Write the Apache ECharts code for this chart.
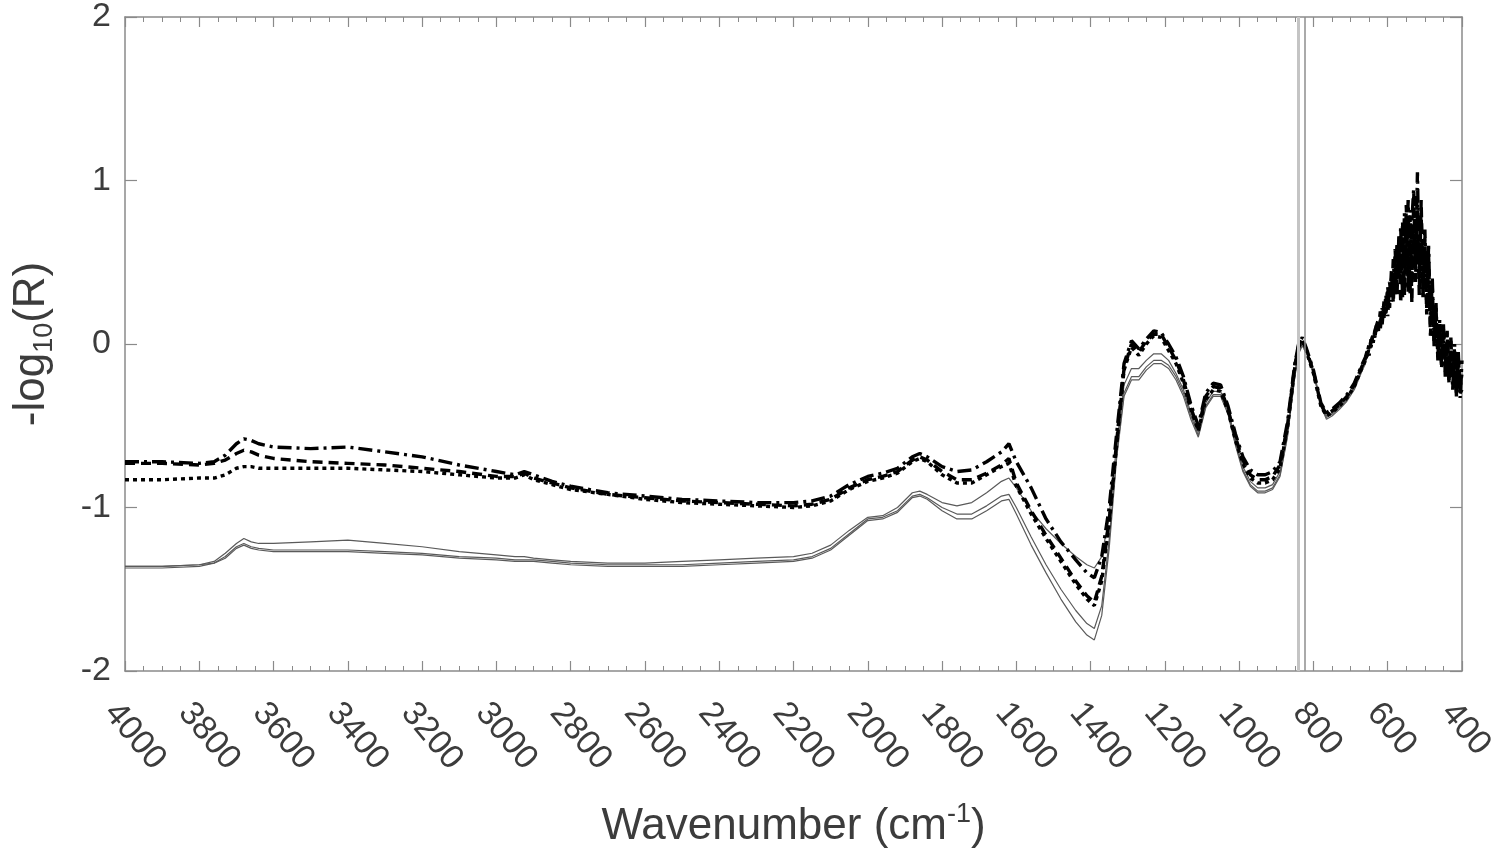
<!DOCTYPE html>
<html>
<head>
<meta charset="utf-8">
<script src="https://cdn.jsdelivr.net/npm/echarts@6/dist/echarts.min.js"></script>
<style>
html,body{margin:0;padding:0;background:#fff;}
#chart{width:1500px;height:858px;}
</style>
</head>
<body>
<div id="chart"></div>
<script>
// Wavenumber grid (cm^-1), shared by all spectra
const wavenumbers = [
  4000,3900,3800,3760,3730,3700,3680,3660,3640,3600,
  3500,3400,3300,3200,3100,3000,2950,2925,2900,2850,
  2800,2700,2600,2500,2400,2300,2200,2150,2100,2050,
  2000,1960,1920,1880,1860,1840,1800,1760,1720,1680,
  1640,1620,1600,1560,1520,1480,1440,1410,1390,1370,
  1350,1330,1310,1290,1270,1250,1230,1210,1190,1170,
  1150,1130,1110,1090,1070,1050,1030,1010,990,970,
  950,930,910,890,870,850,840,830,820,800,
  780,765,750,730,710,690,670,660,
  655,650,645,640,635,630,625,620,615,610,
  605,600,595,590,585,580,575,570,565,560,
  555,550,545,540,535,530,525,520,515,510,
  505,500,495,490,485,480,475,470,465,460,
  455,450,445,440,435,430,425,420,415,410,
  405,400
];

// Dash-dot black spectrum
const dashed1 = [
  -0.72,-0.72,-0.73,-0.72,-0.68,-0.61,-0.58,-0.59,-0.61,-0.63,
  -0.64,-0.63,-0.66,-0.69,-0.74,-0.78,-0.80,-0.78,-0.80,-0.84,
  -0.87,-0.91,-0.93,-0.95,-0.96,-0.97,-0.97,-0.96,-0.93,-0.86,
  -0.81,-0.79,-0.76,-0.69,-0.67,-0.69,-0.75,-0.78,-0.77,-0.72,
  -0.66,-0.61,-0.72,-0.88,-1.07,-1.21,-1.32,-1.40,-1.43,-1.30,
  -1.00,-0.55,-0.12,0.02,-0.03,0.03,0.08,0.07,0.00,-0.08,
  -0.20,-0.37,-0.50,-0.30,-0.24,-0.25,-0.38,-0.55,-0.69,-0.77,
  -0.80,-0.80,-0.78,-0.72,-0.48,-0.12,0.00,0.04,-0.02,-0.16,
  -0.36,-0.42,-0.40,-0.36,-0.31,-0.24,-0.13,-0.08,
  -0.04,-0.07,0.03,-0.01,0.08,0.07,0.15,0.09,0.22,0.16,
  0.30,0.17,0.38,0.26,0.52,0.30,0.62,0.40,0.72,0.28,
  0.80,0.45,0.88,0.30,0.75,0.95,0.38,1.05,0.40,0.80,
  0.30,0.70,0.22,0.60,0.12,0.40,-0.02,0.25,-0.10,0.15,
  -0.15,0.12,-0.20,0.06,-0.22,0.04,-0.28,0.00,-0.30,-0.05,
  -0.33,-0.10
];

// Dashed black spectrum
const dashed2 = [
  -0.73,-0.73,-0.74,-0.73,-0.71,-0.67,-0.65,-0.66,-0.68,-0.70,
  -0.72,-0.73,-0.74,-0.76,-0.78,-0.81,-0.81,-0.79,-0.82,-0.85,
  -0.88,-0.92,-0.94,-0.96,-0.97,-0.98,-0.99,-0.98,-0.95,-0.88,
  -0.83,-0.81,-0.78,-0.71,-0.69,-0.71,-0.78,-0.83,-0.83,-0.79,
  -0.74,-0.70,-0.85,-1.02,-1.17,-1.31,-1.45,-1.54,-1.58,-1.42,
  -1.08,-0.60,-0.15,0.00,-0.05,0.02,0.06,0.06,-0.02,-0.10,
  -0.22,-0.39,-0.52,-0.32,-0.26,-0.27,-0.40,-0.57,-0.71,-0.80,
  -0.83,-0.83,-0.81,-0.74,-0.50,-0.13,-0.01,0.03,-0.03,-0.17,
  -0.37,-0.43,-0.41,-0.37,-0.32,-0.25,-0.14,-0.09,
  -0.07,-0.02,-0.03,0.05,0.03,0.12,0.08,0.20,0.12,0.26,
  0.19,0.35,0.22,0.45,0.25,0.58,0.30,0.66,0.25,0.75,
  0.30,0.85,0.32,0.78,0.25,0.90,0.45,0.80,0.30,0.88,
  0.28,0.65,0.18,0.55,0.05,0.35,0.00,0.22,-0.08,0.12,
  -0.12,0.10,-0.18,0.08,-0.24,0.02,-0.22,-0.04,-0.32,-0.08,
  -0.30,-0.28
];

// Dotted black spectrum
const dashed3 = [
  -0.83,-0.83,-0.82,-0.82,-0.80,-0.76,-0.75,-0.75,-0.76,-0.76,
  -0.76,-0.76,-0.77,-0.78,-0.80,-0.82,-0.82,-0.80,-0.83,-0.86,
  -0.89,-0.92,-0.95,-0.97,-0.98,-0.99,-1.00,-0.99,-0.96,-0.89,
  -0.84,-0.82,-0.79,-0.72,-0.70,-0.72,-0.80,-0.85,-0.85,-0.80,
  -0.75,-0.73,-0.87,-1.04,-1.19,-1.33,-1.47,-1.56,-1.60,-1.45,
  -1.10,-0.62,-0.16,-0.02,-0.07,0.00,0.05,0.04,-0.04,-0.12,
  -0.24,-0.40,-0.53,-0.34,-0.28,-0.29,-0.41,-0.59,-0.73,-0.82,
  -0.85,-0.85,-0.83,-0.76,-0.51,-0.14,-0.02,0.02,-0.04,-0.18,
  -0.38,-0.44,-0.42,-0.38,-0.33,-0.26,-0.15,-0.10,
  -0.05,0.00,-0.02,0.06,0.04,0.10,0.13,0.11,0.20,0.24,
  0.18,0.33,0.28,0.40,0.30,0.50,0.36,0.58,0.40,0.68,
  0.36,0.72,0.42,0.82,0.40,0.70,0.50,0.85,0.45,0.62,
  0.40,0.55,0.35,0.45,0.18,0.28,0.05,0.18,-0.02,0.08,
  -0.08,0.02,-0.12,0.00,-0.16,-0.04,-0.20,-0.08,-0.25,-0.12,
  -0.26,-0.18
];

// Thin grey spectra
const solid1 = [
  -1.36,-1.36,-1.35,-1.33,-1.28,-1.22,-1.19,-1.21,-1.22,-1.22,
  -1.21,-1.20,-1.22,-1.24,-1.27,-1.29,-1.30,-1.30,-1.31,-1.32,
  -1.33,-1.34,-1.34,-1.33,-1.32,-1.31,-1.30,-1.28,-1.23,-1.14,
  -1.06,-1.05,-1.00,-0.91,-0.90,-0.92,-0.97,-0.99,-0.97,-0.91,
  -0.84,-0.82,-0.88,-1.02,-1.13,-1.22,-1.30,-1.35,-1.37,-1.30,
  -1.05,-0.62,-0.25,-0.15,-0.15,-0.10,-0.06,-0.06,-0.10,-0.18,
  -0.28,-0.42,-0.54,-0.36,-0.29,-0.29,-0.40,-0.59,-0.75,-0.84,
  -0.88,-0.88,-0.86,-0.78,-0.55,-0.18,-0.04,0.01,-0.03,-0.16,
  -0.36,-0.44,-0.42,-0.38,-0.33,-0.26,-0.15,-0.10,
  -0.06,-0.03,0.01,0.02,0.07,0.08,0.13,0.14,0.20,0.20,
  0.26,0.25,0.34,0.31,0.42,0.38,0.52,0.42,0.58,0.46,
  0.62,0.50,0.66,0.52,0.70,0.55,0.72,0.52,0.66,0.48,
  0.60,0.42,0.50,0.32,0.36,0.18,0.20,0.06,0.10,-0.02,
  0.04,-0.08,0.00,-0.12,-0.04,-0.15,-0.08,-0.18,-0.12,-0.22,
  -0.16,-0.25
];

const solid2 = [
  -1.36,-1.36,-1.35,-1.34,-1.30,-1.24,-1.22,-1.24,-1.25,-1.26,
  -1.26,-1.26,-1.27,-1.28,-1.30,-1.31,-1.32,-1.32,-1.32,-1.33,
  -1.34,-1.35,-1.35,-1.35,-1.34,-1.33,-1.32,-1.30,-1.25,-1.16,
  -1.07,-1.06,-1.02,-0.93,-0.92,-0.94,-1.00,-1.04,-1.04,-0.99,
  -0.93,-0.92,-1.00,-1.18,-1.35,-1.50,-1.63,-1.71,-1.74,-1.60,
  -1.20,-0.68,-0.30,-0.20,-0.20,-0.14,-0.10,-0.10,-0.13,-0.20,
  -0.30,-0.44,-0.56,-0.38,-0.31,-0.31,-0.42,-0.61,-0.77,-0.86,
  -0.90,-0.90,-0.88,-0.80,-0.56,-0.19,-0.05,0.00,-0.04,-0.17,
  -0.37,-0.45,-0.43,-0.39,-0.34,-0.27,-0.16,-0.11,
  -0.07,-0.04,0.00,0.03,0.05,0.10,0.11,0.16,0.17,0.23,
  0.22,0.30,0.28,0.38,0.34,0.46,0.40,0.54,0.44,0.60,
  0.48,0.64,0.50,0.68,0.52,0.66,0.56,0.70,0.50,0.62,
  0.45,0.55,0.38,0.44,0.25,0.30,0.10,0.18,0.00,0.08,
  -0.05,0.02,-0.10,-0.02,-0.13,-0.06,-0.16,-0.10,-0.20,-0.14,
  -0.24,-0.20
];

const solid3 = [
  -1.37,-1.37,-1.36,-1.34,-1.31,-1.25,-1.23,-1.25,-1.26,-1.27,
  -1.27,-1.27,-1.28,-1.29,-1.31,-1.32,-1.33,-1.33,-1.33,-1.34,
  -1.35,-1.36,-1.36,-1.36,-1.35,-1.34,-1.33,-1.31,-1.26,-1.17,
  -1.08,-1.07,-1.03,-0.94,-0.93,-0.95,-1.02,-1.07,-1.07,-1.02,
  -0.96,-0.95,-1.04,-1.23,-1.40,-1.56,-1.70,-1.78,-1.81,-1.66,
  -1.25,-0.70,-0.32,-0.22,-0.22,-0.16,-0.12,-0.12,-0.15,-0.22,
  -0.32,-0.46,-0.57,-0.39,-0.32,-0.32,-0.43,-0.62,-0.78,-0.87,
  -0.91,-0.91,-0.89,-0.81,-0.57,-0.20,-0.06,-0.01,-0.05,-0.18,
  -0.38,-0.46,-0.44,-0.40,-0.35,-0.28,-0.17,-0.12,
  -0.07,-0.05,0.01,0.01,0.06,0.09,0.12,0.15,0.19,0.21,
  0.25,0.27,0.32,0.33,0.40,0.40,0.50,0.45,0.56,0.48,
  0.60,0.52,0.64,0.55,0.66,0.58,0.68,0.55,0.64,0.50,
  0.58,0.45,0.48,0.35,0.34,0.20,0.18,0.08,0.08,0.00,
  0.02,-0.06,-0.02,-0.10,-0.06,-0.13,-0.10,-0.16,-0.14,-0.20,
  -0.18,-0.23
];

// Vertical reference lines (cm^-1)
const refLines = [842, 823];

const xTicks = {min: 400, max: 4000, step: 200};
const yTicks = {min: -2, max: 2, step: 1};

function pairs(ys) { return wavenumbers.map((w, i) => [w, ys[i]]); }

const FONT = '"Liberation Sans", Arial, Helvetica, sans-serif';
const AXIS_COLOR = '#8a8a8a';
const LABEL_COLOR = '#3c3c3c';

const chart = echarts.init(document.getElementById('chart'), null, {renderer: 'canvas'});

function greySeries(name, ys) {
  return {
    name: name, type: 'line', data: pairs(ys), showSymbol: false, symbol: 'none',
    lineStyle: {color: '#5a5a5a', width: 1.2}, silent: true, z: 2
  };
}
function blackSeries(name, ys, dash) {
  return {
    name: name, type: 'line', data: pairs(ys), showSymbol: false, symbol: 'none',
    lineStyle: {color: '#000', width: 3.4, type: dash}, silent: true, z: 3
  };
}

const series = [
  greySeries('s1', solid1),
  greySeries('s2', solid2),
  greySeries('s3', solid3),
  blackSeries('d3', dashed3, [4, 4]),
  blackSeries('d2', dashed2, [10, 6]),
  blackSeries('d1', dashed1, [14, 5, 3, 5])
];
series[0].markLine = {
  silent: true, symbol: ['none', 'none'], label: {show: false},
  data: [
    {xAxis: refLines[0], lineStyle: {color: '#c4c4c4', width: 3, type: 'solid'}},
    {xAxis: refLines[1], lineStyle: {color: '#8e8e8e', width: 1.5, type: 'solid'}}
  ]
};

const baseX = {
  type: 'value', min: xTicks.min, max: xTicks.max, interval: xTicks.step, inverse: true,
  axisLine: {show: true, onZero: false, lineStyle: {color: AXIS_COLOR, width: 1.5}},
  axisTick: {show: true, inside: true, length: 10, lineStyle: {color: AXIS_COLOR, width: 1.2}},
  minorTick: {show: true, splitNumber: 4, length: 5, lineStyle: {color: AXIS_COLOR, width: 1}},
  splitLine: {show: false}, minorSplitLine: {show: false}
};
const baseY = {
  type: 'value', min: yTicks.min, max: yTicks.max, interval: yTicks.step,
  axisLine: {show: true, onZero: false, lineStyle: {color: AXIS_COLOR, width: 1.5}},
  axisTick: {show: true, inside: true, length: 12, lineStyle: {color: AXIS_COLOR, width: 1.2}},
  splitLine: {show: false}
};

chart.setOption({
  animation: false,
  backgroundColor: '#fff',
  grid: {left: 125, right: 38, top: 17, bottom: 187, containLabel: false, outerBoundsMode: 'none'},
  xAxis: [
    Object.assign({}, baseX, {
      position: 'bottom',
      axisLabel: {
        rotate: -50, fontSize: 34, color: LABEL_COLOR, fontFamily: FONT, margin: 24,
        align: 'left', verticalAlign: 'top', padding: [2, 0, 0, 0],
        formatter: v => String(v)
      },
      name: 'Wavenumber (cm{sup|-1})',
      nameLocation: 'middle', nameGap: 130,
      nameTextStyle: {
        fontSize: 44, color: LABEL_COLOR, fontFamily: FONT, lineHeight: 52,
        rich: {sup: {fontSize: 27, color: LABEL_COLOR, fontFamily: FONT, verticalAlign: 'top', lineHeight: 52}}
      }
    }),
    Object.assign({}, baseX, {position: 'top', axisLabel: {show: false}})
  ],
  yAxis: [
    Object.assign({}, baseY, {
      position: 'left',
      axisLabel: {fontSize: 34, color: LABEL_COLOR, fontFamily: FONT, margin: 14, formatter: v => String(v)},
      name: '-log{sub|10}(R)',
      nameLocation: 'middle', nameRotate: 90, nameGap: 67,
      nameTextStyle: {
        fontSize: 44, color: LABEL_COLOR, fontFamily: FONT, lineHeight: 52,
        rich: {sub: {fontSize: 27, color: LABEL_COLOR, fontFamily: FONT, verticalAlign: 'bottom', lineHeight: 52}}
      }
    }),
    Object.assign({}, baseY, {position: 'right', axisLabel: {show: false}})
  ],
  series: series
});
</script>
</body>
</html>
